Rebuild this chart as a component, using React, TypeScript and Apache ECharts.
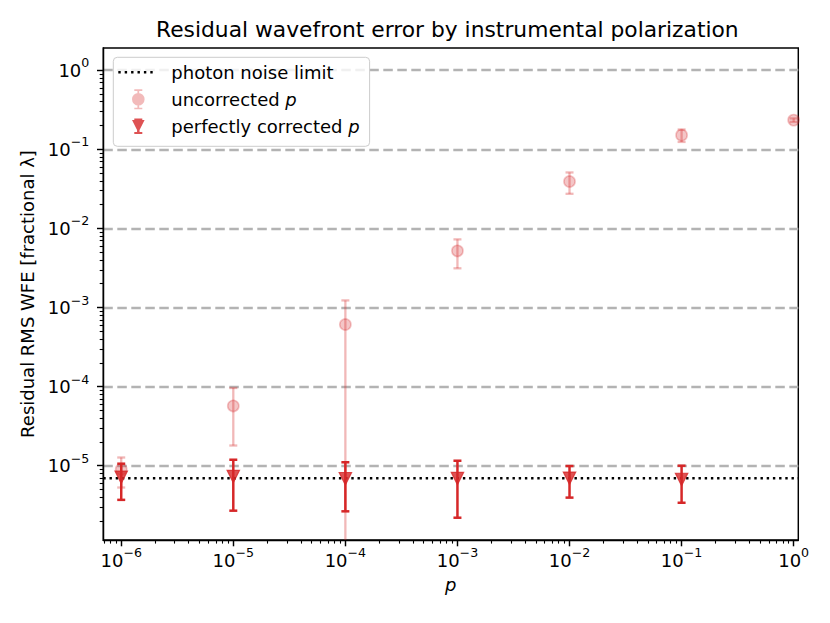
import React, { useEffect, useRef } from "react";
import * as echarts from "echarts";

// ---- data ----
const pValues = [1e-6, 1e-5, 1e-4, 1e-3, 1e-2, 1e-1, 1e0];
const uncorrectedWfe = [9.0e-6, 5.7e-5, 6.1e-4, 5.2e-3, 0.0392, 0.151, 0.234];
const uncorrectedErr = [3.7e-6, 3.9e-5, 6.2e-4, 2.07e-3, 0.0118, 0.027, 0.012];
const correctedP = [1e-6, 1e-5, 1e-4, 1e-3, 1e-2, 1e-1];
const correctedWfe = [7.15e-6, 7.3e-6, 6.85e-6, 6.88e-6, 6.93e-6, 6.7e-6];
const correctedErr = [3.45e-6, 4.6e-6, 4.2e-6, 4.68e-6, 2.98e-6, 3.3e-6];
const photonNoiseLimit = 6.93e-6;

const xMajorTicks = [1e-6, 1e-5, 1e-4, 1e-3, 1e-2, 1e-1, 1e0];
const yMajorTicks = [1e-6, 1e-5, 1e-4, 1e-3, 1e-2, 1e-1, 1e0];
const xRange = [6.92e-7, 1.1];
const yRange = [1.15e-6, 1.91];

const seriesNames = ["photon noise limit", "uncorrected p", "perfectly corrected p"];
const titleText = "Residual wavefront error by instrumental polarization";
const xAxisName = "p";
const yAxisName = "Residual RMS WFE [fractional {g|λ}]";

const minorTicks = (() => {
  const out: number[] = [];
  for (let k = -7; k <= 0; k++) {
    for (let m = 2; m <= 9; m++) out.push(parseFloat((m * Math.pow(10, k)).toPrecision(3)));
  }
  return out;
})();

const FONT = "DejaVu Sans";
const RED = "#d62728";
const RED_A = "rgba(214,39,40,0.33)";

const powLabel = (v: number) => {
  const e = Math.round(Math.log10(v));
  return `{b|10}{s|${e < 0 ? "\u2212" + -e : String(e)}}`;
};

const labelRich = {
  b: { fontFamily: FONT, fontSize: 18, lineHeight: 28, color: "#000" },
  s: { fontFamily: FONT, fontSize: 12.6, lineHeight: 14, verticalAlign: "top", color: "#000" },
};

const makeErrorRender = (color: string, lineWidth: number, capHalf: number) =>
  (params: any, api: any) => {
    const x = api.value(0);
    const y = api.value(1);
    const e = api.value(2);
    const cs = params.coordSys;
    const top = api.coord([x, y + e]);
    const lo = y - e;
    const bottomY = lo > 0 ? api.coord([x, lo])[1] : cs.y + cs.height + 20;
    const style = { stroke: color, lineWidth, fill: null };
    const children: any[] = [
      { type: "line", shape: { x1: top[0], y1: top[1], x2: top[0], y2: bottomY }, style },
      { type: "line", shape: { x1: top[0] - capHalf, y1: top[1], x2: top[0] + capHalf, y2: top[1] }, style },
    ];
    if (lo > 0) {
      children.push({
        type: "line",
        shape: { x1: top[0] - capHalf, y1: bottomY, x2: top[0] + capHalf, y2: bottomY },
        style,
      });
    }
    return { type: "group", children };
  };

// legend icons (48 x 20 boxes)
const dotsIcon =
  "path://" +
  [0, 1, 2, 3, 4, 5]
    .map((i) => {
      const x0 = (i * 6.4).toFixed(2);
      const x1 = (i * 6.4 + 2.4).toFixed(2);
      return `M${x0} 8.8 H${x1} V11.2 H${x0} Z`;
    })
    .join(" ") +
  " M0 0 L0 0 Z M48 20 L48 20 Z";
const circleIcon =
  "path://M13.7 10 A6.3 6.3 0 0 1 26.3 10 A6.3 6.3 0 0 1 13.7 10 Z " +
  "M19.1 0.8 H20.9 V19.2 H19.1 Z M16 0 H24 V1.6 H16 Z M16 18.4 H24 V20 H16 Z " +
  "M0 10 L0 10 Z M48 10 L48 10 Z";
const triangleIcon =
  "path://M13.7 3.7 H26.3 L20 16.3 Z M18.75 3.3 H21.25 V16.7 H18.75 Z " +
  "M16 2.3 H24 V4.3 H16 Z M16 15.7 H24 V17.7 H16 Z M0 0 L0 0 Z M48 20 L48 20 Z";

export default function App() {
  const ref = useRef<HTMLDivElement>(null);
  useEffect(() => {
    if (!ref.current) return;
    const chart = echarts.init(ref.current, undefined, { renderer: "svg" });
    const option: any = {
      animation: false,
      backgroundColor: "#fff",
      textStyle: { fontFamily: FONT },
      title: {
        text: titleText,
        left: 156,
        top: 18,
        padding: 0,
        textStyle: { fontFamily: FONT, fontSize: 21.8, fontWeight: "normal", color: "#000" },
      },
      grid: {
        left: 103.3,
        top: 48,
        right: 31.7,
        bottom: 83,
        show: true,
        borderColor: "#000",
        borderWidth: 1.45,
        backgroundColor: "transparent",
      },
      legend: {
        orient: "vertical",
        left: 113.3,
        top: 57.3,
        padding: [5, 10, 10, 5],
        itemWidth: 48,
        itemHeight: 20,
        itemGap: 7,
        selectedMode: false,
        backgroundColor: "rgba(255,255,255,0.8)",
        borderColor: "#cccccc",
        borderWidth: 1,
        borderRadius: 4,
        symbolKeepAspect: true,
        formatter: (name: string) =>
          name.endsWith(" p") ? `{n|${name.slice(0, -1)}}{i|p}` : `{n|${name}}`,
        textStyle: {
          fontFamily: FONT,
          fontSize: 18,
          color: "#000",
          rich: {
            n: { fontFamily: FONT, fontSize: 18, lineHeight: 20, color: "#000" },
            i: { fontFamily: FONT, fontSize: 18, lineHeight: 20, fontStyle: "italic", color: "#000" },
          },
        },
        data: [
          { name: seriesNames[0], icon: dotsIcon, itemStyle: { color: "#000", borderWidth: 0 } },
          { name: seriesNames[1], icon: circleIcon, itemStyle: { color: "rgba(214,39,40,0.4)", borderWidth: 0 } },
          { name: seriesNames[2], icon: triangleIcon, itemStyle: { color: RED, borderWidth: 0 } },
        ],
      },
      xAxis: [
        {
          type: "log",
          logBase: 10,
          min: xRange[0],
          max: xRange[1],
          name: xAxisName,
          nameLocation: "middle",
          nameGap: 35,
          nameTextStyle: { fontFamily: FONT, fontSize: 18, fontStyle: "italic", color: "#000" },
          axisLine: { show: true, lineStyle: { color: "#000", width: 1.45 } },
          axisTick: { show: true, customValues: xMajorTicks, length: 6.3, lineStyle: { color: "#000", width: 1.45 } },
          axisLabel: { show: true, customValues: xMajorTicks, margin: 6, formatter: powLabel, rich: labelRich },
          splitLine: { show: false },
          minorTick: { show: false },
        },
        {
          type: "log",
          logBase: 10,
          min: xRange[0],
          max: xRange[1],
          position: "bottom",
          gridIndex: 0,
          axisLine: { show: false },
          axisTick: { show: true, customValues: minorTicks, length: 3.6, lineStyle: { color: "#000", width: 1.1 } },
          axisLabel: { show: false },
          splitLine: { show: false },
        },
      ],
      yAxis: [
        {
          type: "log",
          logBase: 10,
          min: yRange[0],
          max: yRange[1],
          name: yAxisName,
          nameLocation: "middle",
          nameGap: 60,
          nameTextStyle: {
            fontFamily: FONT,
            fontSize: 18,
            color: "#000",
            rich: { g: { fontFamily: FONT, fontSize: 18, color: "#000" } },
          },
          axisLine: { show: true, lineStyle: { color: "#000", width: 1.45 } },
          axisTick: { show: true, customValues: yMajorTicks, length: 6.3, lineStyle: { color: "#000", width: 1.45 } },
          axisLabel: { show: true, customValues: yMajorTicks, margin: 14, formatter: powLabel, rich: labelRich },
          splitLine: { show: true, lineStyle: { color: "#b3b3b3", width: 2.4, type: [9.5, 4.5] } },
          minorTick: { show: false },
        },
        {
          type: "log",
          logBase: 10,
          min: yRange[0],
          max: yRange[1],
          position: "left",
          gridIndex: 0,
          axisLine: { show: false },
          axisTick: { show: true, customValues: minorTicks, length: 3.6, lineStyle: { color: "#000", width: 1.1 } },
          axisLabel: { show: false },
          splitLine: { show: false },
        },
      ],
      series: [
        {
          name: seriesNames[0],
          type: "line",
          xAxisIndex: 0,
          yAxisIndex: 0,
          z: 2,
          symbol: "none",
          silent: true,
          color: "#000",
          lineStyle: { color: "#000", width: 2.4, type: [2.4, 3.8] },
          data: [
            [xRange[0], photonNoiseLimit],
            [xRange[1], photonNoiseLimit],
          ],
        },
        {
          name: "uncorrected error",
          type: "custom",
          xAxisIndex: 0,
          yAxisIndex: 0,
          z: 3,
          clip: true,
          silent: true,
          encode: { x: 0, y: 1 },
          renderItem: makeErrorRender(RED_A, 2.3, 4),
          data: pValues.map((p, i) => [p, uncorrectedWfe[i], uncorrectedErr[i]]),
        },
        {
          name: seriesNames[1],
          type: "scatter",
          xAxisIndex: 0,
          yAxisIndex: 0,
          z: 4,
          symbol: "circle",
          symbolSize: 11.2,
          silent: true,
          color: RED_A,
          itemStyle: { color: RED_A, borderColor: RED_A, borderWidth: 1.6 },
          data: pValues.map((p, i) => [p, uncorrectedWfe[i]]),
        },
        {
          name: "corrected error",
          type: "custom",
          xAxisIndex: 0,
          yAxisIndex: 0,
          z: 5,
          clip: true,
          silent: true,
          encode: { x: 0, y: 1 },
          renderItem: makeErrorRender(RED, 2.5, 4),
          data: correctedP.map((p, i) => [p, correctedWfe[i], correctedErr[i]]),
        },
        {
          name: seriesNames[2],
          type: "scatter",
          xAxisIndex: 0,
          yAxisIndex: 0,
          z: 6,
          symbol: "triangle",
          symbolRotate: 180,
          symbolSize: 12.4,
          silent: true,
          color: RED,
          itemStyle: { color: RED, borderColor: RED, borderWidth: 1.2 },
          data: correctedP.map((p, i) => [p, correctedWfe[i]]),
        },
      ],
    };
    chart.setOption(option);
    return () => chart.dispose();
  }, []);
  return (
    <div
      ref={ref}
      style={{ position: "absolute", left: 0, top: 0, width: 830, height: 623, background: "#fff" }}
    />
  );
}
